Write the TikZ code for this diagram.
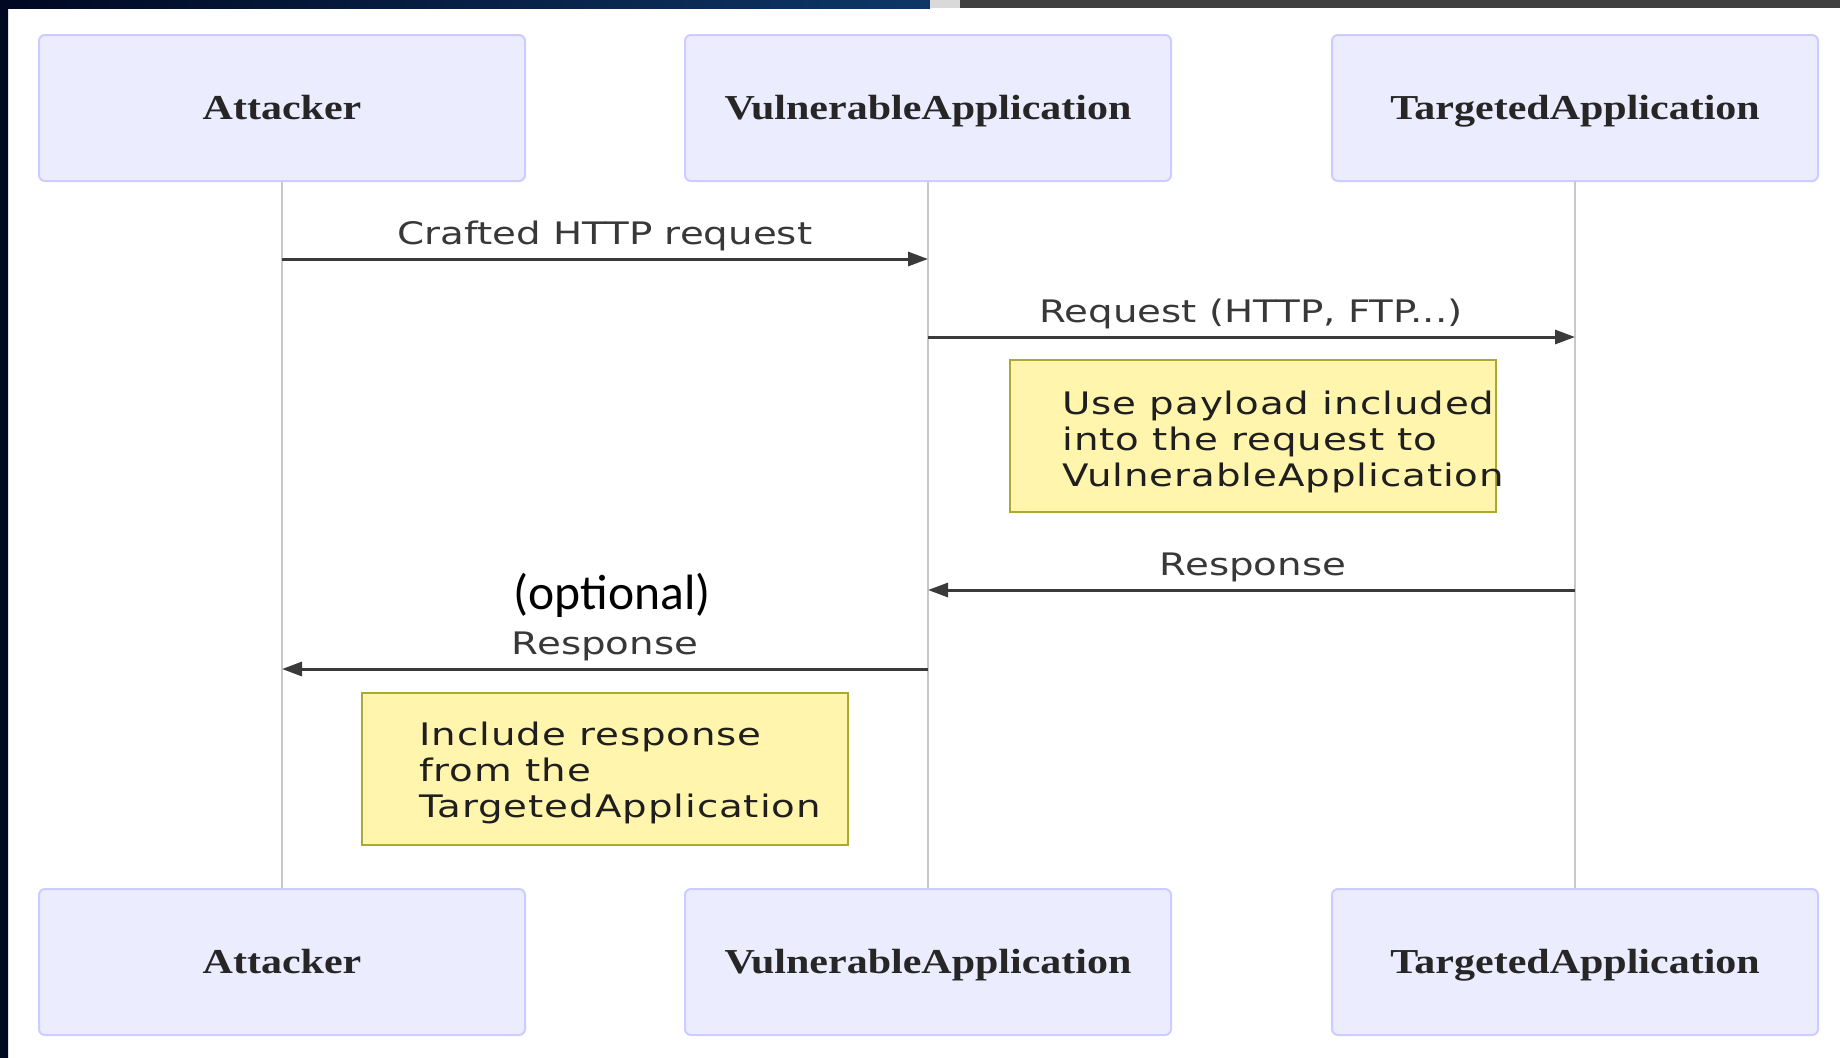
\documentclass[tikz,border=0pt]{standalone}
\usepackage{fontspec}
\usetikzlibrary{arrows.meta}

% fonts: serif actor titles, sans message labels and notes, Carlito annotation
\newfontfamily\actorfont[FakeStretch=1.2]{Liberation Serif}
\newfontfamily\msgfont[FakeStretch=1.25]{DejaVu Sans}
\newfontfamily\notefont[FakeStretch=1.25,LetterSpace=3]{DejaVu Sans}
\newfontfamily\callout{Carlito}

\definecolor{actorfill}{HTML}{ECECFF}
\definecolor{actordraw}{HTML}{CCCCFF}
\definecolor{notefill}{HTML}{FFF5AD}
\definecolor{notedraw}{HTML}{AAAA33}
\definecolor{msgline}{HTML}{3A3A3A}
\definecolor{lifeline}{HTML}{C8C8C8}
\definecolor{msgtext}{HTML}{383838}
\definecolor{navyA}{HTML}{000822}
\definecolor{navyB}{HTML}{0E3766}
\definecolor{navyC}{HTML}{3A5272}
\definecolor{bargray}{HTML}{404040}
\definecolor{barlight}{HTML}{D9D9D9}

\tikzset{
  actor/.style={draw=actordraw, fill=actorfill, line width=1pt, rounded corners=3pt,
    minimum width=243pt, minimum height=73pt, inner sep=0pt,
    text height=11pt, text depth=0pt,
    font=\actorfont\bfseries\fontsize{17.5}{20}\selectfont, text=black!85},
  life/.style={draw=lifeline, line width=1pt},
  msg/.style={draw=msgline, line width=1.5pt, -{Triangle[length=10pt,width=7pt]}},
  lbl/.style={font=\msgfont\fontsize{15.5}{18}\selectfont, text=msgtext, inner sep=0pt, anchor=base},
  notebox/.style={draw=notedraw, fill=notefill, line width=1pt, inner sep=0pt,
    minimum width=243pt, minimum height=76pt, anchor=north west},
  noteline/.style={font=\notefont\fontsize{15.5}{18}\selectfont, text=black!88, inner sep=0pt, anchor=base west},
  optlbl/.style={font=\callout\fontsize{24.8}{29}\selectfont, text=black, inner sep=0pt, anchor=base},
}

\begin{document}
\begin{tikzpicture}[x=0.5pt,y=-0.5pt]
\useasboundingbox (0,0) rectangle (1840,1057);

% page background and slide frame
\fill[white] (0,0) rectangle (1840,1057);
\shade[top color=navyA, middle color=navyC, bottom color=navyA] (0,0) rectangle (8,1057);
\shade[left color=navyA, right color=navyB] (0,0) rectangle (930,8);
\fill[barlight] (930,0) rectangle (960,8);
\fill[bargray] (960,0) rectangle (1840,8);

% participants, head and foot
\node[actor] (atkT) at (282,108) {Attacker};
\node[actor] (vulT) at (928,108) {VulnerableApplication};
\node[actor] (tgtT) at (1575,108) {TargetedApplication};
\node[actor] (atkB) at (282,962) {Attacker};
\node[actor] (vulB) at (928,962) {VulnerableApplication};
\node[actor] (tgtB) at (1575,962) {TargetedApplication};

% lifelines
\draw[life] (atkT.south) -- (atkB.north);
\draw[life] (vulT.south) -- (vulB.north);
\draw[life] (tgtT.south) -- (tgtB.north);

% message anchor points on the lifelines
\coordinate (m1s) at (atkT |- 0,259);
\coordinate (m1e) at (vulT |- 0,259);
\coordinate (m2s) at (vulT |- 0,337);
\coordinate (m2e) at (tgtT |- 0,337);
\coordinate (m3s) at (tgtT |- 0,590);
\coordinate (m3e) at (vulT |- 0,590);
\coordinate (m4s) at (vulT |- 0,669);
\coordinate (m4e) at (atkT |- 0,669);

% messages
\draw[msg] (m1s) -- (m1e);
\node[lbl] (l1) at (605,244) {Crafted HTTP request};

\draw[msg] (m2s) -- (m2e);
\node[lbl] (l2) at (1251,322) {Request (HTTP, FTP...)};

\node[notebox] (n1) at (1009,359) {};
\node[noteline] (n1a) at (1062,414) {Use payload included};
\node[noteline] (n1b) at (1062,450) {into the request to};
\node[noteline] (n1c) at (1062,486) {VulnerableApplication};

\draw[msg] (m3s) -- (m3e);
\node[lbl] (l3) at (1253,575) {Response};

\node[optlbl] (opt) at (612,609) {(optional)};
\draw[msg] (m4s) -- (m4e);
\node[lbl] (l4) at (605,654) {Response};

\node[notebox] (n2) at (361,692) {};
\node[noteline] (n2a) at (419,745) {Include response};
\node[noteline] (n2b) at (419,781) {from the};
\node[noteline] (n2c) at (419,817) {TargetedApplication};
\end{tikzpicture}
\end{document}
